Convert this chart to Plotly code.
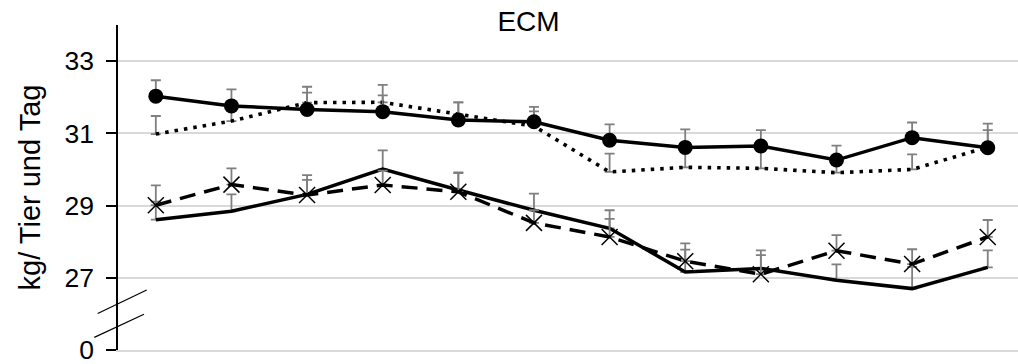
import plotly.graph_objects as go

x = list(range(12))

# Series A: solid line with circles
a_vals = [32.03, 31.76, 31.66, 31.60, 31.37, 31.32, 30.81, 30.61, 30.65, 30.26, 30.88, 30.60]
a_err = [0.44, 0.46, 0.63, 0.45, 0.49, 0.41, 0.44, 0.50, 0.44, 0.40, 0.42, 0.67]
# Series B: dotted line
b_vals = [30.98, 31.34, 31.85, 31.86, 31.53, 31.20, 29.93, 30.06, 30.03, 29.91, 30.00, 30.62]
b_err = [0.50, 0.40, 0.28, 0.48, 0.33, 0.41, 0.51, 0.55, 0.60, 0.30, 0.42, 0.47]
# Series C: solid line, no markers
c_vals = [28.61, 28.84, 29.31, 30.01, 29.43, 28.87, 28.37, 27.16, 27.26, 26.93, 26.70, 27.29]
c_err = [0.50, 0.47, 0.40, 0.52, 0.49, 0.46, 0.50, 0.62, 0.37, 0.44, 0.60, 0.47]
# Series D: dashed line with x markers
d_vals = [29.01, 29.58, 29.29, 29.57, 29.38, 28.52, 28.13, 27.46, 27.10, 27.75, 27.38, 28.13]
d_err = [0.55, 0.45, 0.55, 0.40, 0.52, 0.35, 0.50, 0.49, 0.66, 0.43, 0.41, 0.47]

tick_vals = [25, 27, 29, 31, 33]
tick_text = ["0", "27", "29", "31", "33"]

ERR_COLOR = "#7f7f7f"

def eb(err):
    return dict(type="data", array=err, arrayminus=[0] * len(err), symmetric=False,
                color=ERR_COLOR, thickness=1.8, width=5)

fig = go.Figure()
fig.add_trace(go.Scatter(x=x, y=b_vals, mode="lines", error_y=eb(b_err),
                         line=dict(color="black", width=3.6, dash="3.5px,6px")))
fig.add_trace(go.Scatter(x=x, y=c_vals, mode="lines", error_y=eb(c_err),
                         line=dict(color="black", width=3.5)))
fig.add_trace(go.Scatter(x=x, y=d_vals, mode="lines+markers", error_y=eb(d_err),
                         line=dict(color="black", width=3.5, dash="16px,9px"),
                         marker=dict(symbol="x-thin-open", size=16,
                                     line=dict(color="black", width=1.5))))
fig.add_trace(go.Scatter(x=x, y=a_vals, mode="lines+markers", error_y=eb(a_err),
                         line=dict(color="black", width=3.5),
                         marker=dict(symbol="circle", size=15, color="black")))

# axis break marks
L, W = 118, 900
def px2paper(p):
    return (p - L) / W

for (x0, y0, x1, y1) in [(97.7, 26.01, 146.7, 26.66), (94.3, 25.35, 144.0, 25.99)]:
    fig.add_shape(type="line", xref="paper", yref="y",
                  x0=px2paper(x0), y0=y0, x1=px2paper(x1), y1=y1,
                  line=dict(color="black", width=1.2))

fig.update_layout(
    width=1018, height=364,
    margin=dict(l=118, r=0, t=25, b=14),
    paper_bgcolor="white", plot_bgcolor="white",
    showlegend=False,
    font=dict(family="Liberation Sans, Arial, sans-serif", color="black"),
    title=dict(text="ECM", xref="container", yref="container", x=528.5 / 1018, y=1 - 21 / 364,
               xanchor="center", yanchor="middle", font=dict(size=28, color="black")),
    xaxis=dict(range=[-0.5, 11.4], showgrid=False, showticklabels=False, ticks="",
               showline=True, linecolor="#d9d9d9", linewidth=1.5, zeroline=False),
    yaxis=dict(range=[25, 34], tickvals=tick_vals, ticktext=tick_text,
               showgrid=True, gridcolor="#d9d9d9", gridwidth=1.5,
               showline=True, linecolor="black", linewidth=1.5,
               ticks="outside", ticklen=10, tickwidth=1.5, tickcolor="black",
               ticklabelstandoff=7, ticklabeloverflow="allow",
               tickfont=dict(size=26.5, color="black"), zeroline=False,
               title=dict(text="kg/ Tier und Tag", font=dict(size=29, color="black"), standoff=15)),
)

fig.write_html("out.html")
